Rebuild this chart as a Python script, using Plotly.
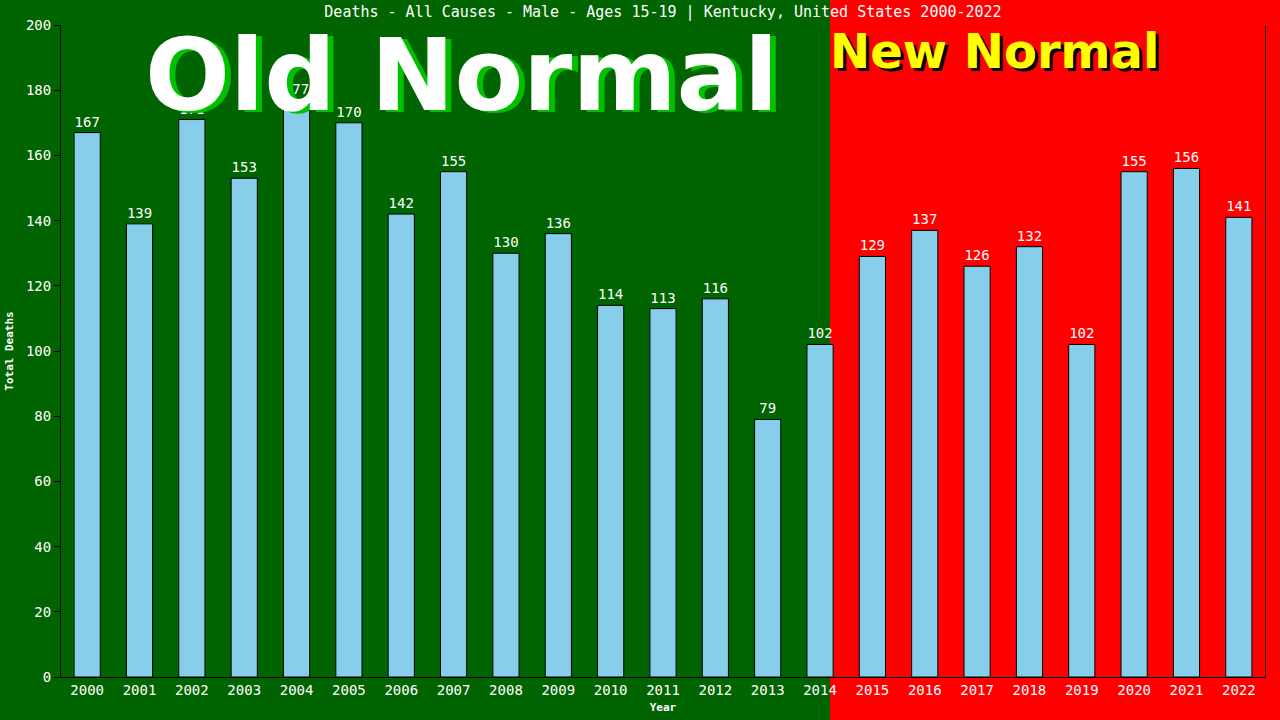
import plotly.graph_objects as go

years = [str(y) for y in range(2000, 2023)]
deaths = [167, 139, 171, 153, 177, 170, 142, 155, 130, 136, 114, 113, 116, 79, 102,
          129, 137, 126, 132, 102, 155, 156, 141]
title_text = "Deaths - All Causes - Male - Ages 15-19 | Kentucky, United States 2000-2022"

W, H = 1280, 720
L, R, T, B = 61, 15, 25, 43
PW, PH = W - L - R, H - T - B

def px(x):
    return (x - L) / PW

def py(y):
    return (H - B - y) / PH

mono = "DejaVu Sans Mono"

fig = go.Figure()
fig.add_trace(go.Bar(
    x=years, y=deaths, width=0.5,
    marker=dict(color="#87CEEB", line=dict(color="black", width=1)),
    text=[str(v) for v in deaths], textposition="outside",
    textfont=dict(family=mono, size=14, color="white"),
    cliponaxis=False,
))

shapes = [
    dict(type="rect", xref="paper", yref="paper", x0=-1, x1=px(830), y0=-1, y1=2,
         fillcolor="#006400", line=dict(width=0), layer="below"),
]

annotations = [
    dict(text="<b>Old Normal</b>", xref="paper", yref="paper", x=px(467), y=py(78),
         showarrow=False, font=dict(family="DejaVu Sans", size=100, color="#00c000"),
         xanchor="center", yanchor="middle"),
    dict(text="<b>Old Normal</b>", xref="paper", yref="paper", x=px(461), y=py(75),
         showarrow=False, font=dict(family="DejaVu Sans", size=100, color="white"),
         xanchor="center", yanchor="middle"),
    dict(text="<b>New Normal</b>", xref="paper", yref="paper", x=px(997), y=py(54),
         showarrow=False, font=dict(family="DejaVu Sans", size=48, color="black"),
         xanchor="center", yanchor="middle"),
    dict(text="<b>New Normal</b>", xref="paper", yref="paper", x=px(994), y=py(51),
         showarrow=False, font=dict(family="DejaVu Sans", size=48, color="yellow"),
         xanchor="center", yanchor="middle"),
]

fig.update_layout(
    width=W, height=H,
    margin=dict(l=L, r=R, t=T, b=B),
    paper_bgcolor="#FF0000", plot_bgcolor="rgba(0,0,0,0)",
    showlegend=False, bargap=0.5,
    shapes=shapes, annotations=annotations,
    title=dict(text=title_text, x=0.5, xref="paper", y=1 - 12 / H, yanchor="middle",
               font=dict(family=mono, size=15, color="white")),
    xaxis=dict(type="category", showline=True, linecolor="black", linewidth=1,
               ticks="", showgrid=False, zeroline=False, automargin=False,
               tickfont=dict(family=mono, size=14, color="white"),
               title=dict(text="<b>Year</b>", standoff=6,
                          font=dict(family=mono, size=11, color="white"))),
    yaxis=dict(range=[0, 200], dtick=20, showline=True, mirror=True, linecolor="black",
               linewidth=1, ticks="outside", ticklen=6, tickcolor="black",
               showgrid=False, zeroline=False, automargin=False,
               tickfont=dict(family=mono, size=14, color="white"),
               title=dict(text="<b>Total Deaths</b>", standoff=10,
                          font=dict(family=mono, size=11, color="white"))),
)

fig.write_html("out.html", config={"displayModeBar": False},
               post_script="document.body.style.margin='0';document.body.style.overflow='hidden';")
